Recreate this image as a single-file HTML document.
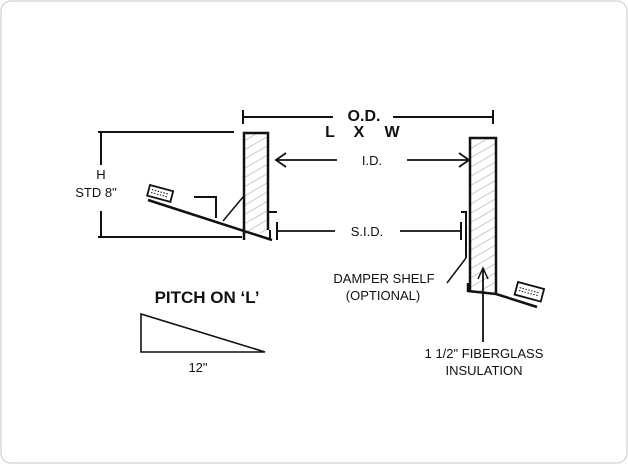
<!DOCTYPE html>
<html><head><style>
html,body{margin:0;padding:0;background:#fff;}
svg{display:block;font-family:"Liberation Sans",Arial,sans-serif;}
</style></head><body>
<svg width="628" height="464" viewBox="0 0 628 464" xmlns="http://www.w3.org/2000/svg">
<defs>
<pattern id="h" width="8" height="8" patternUnits="userSpaceOnUse" patternTransform="rotate(-30)">
<line x1="0" y1="4" x2="8" y2="4" stroke="#bbb" stroke-width="0.8"/>
</pattern>
</defs>
<rect x="1" y="1" width="626" height="462" rx="10" fill="#fff" stroke="#d0d0d0" stroke-width="1.2"/>
<g stroke="#111" fill="none" stroke-width="2">
<line x1="98" y1="132" x2="234" y2="132"/>
<line x1="98" y1="237" x2="242" y2="237"/>
<line x1="101" y1="132" x2="101" y2="165"/>
<line x1="101" y1="211" x2="101" y2="237"/>
<line x1="243" y1="110" x2="243" y2="124"/>
<line x1="243" y1="117" x2="333" y2="117"/>
<line x1="393" y1="117" x2="493" y2="117"/>
<line x1="493" y1="110" x2="493" y2="124"/>
<rect x="244" y="133" width="24" height="100" fill="url(#h)" stroke="none"/>
<polyline points="244,240 244,133 268,133 268,230" stroke-width="2.5"/>
<line x1="269" y1="212" x2="277" y2="212"/>
<line x1="270" y1="230" x2="270" y2="240"/>
<line x1="148" y1="200" x2="272" y2="240" stroke-width="2.5"/>
<polyline points="194,197 216,197 216,218"/>
<line x1="223" y1="221" x2="243" y2="197" stroke-width="1.5"/>
<g transform="translate(150,185) rotate(15)"><rect x="0" y="0" width="24" height="11" fill="#fff" stroke-width="1.8"/>
<line x1="3" y1="4" x2="21" y2="4" stroke-dasharray="1.5,1.5" stroke-width="1"/><line x1="3" y1="7" x2="21" y2="7" stroke-dasharray="1.5,1.5" stroke-width="1"/></g>
<line x1="276" y1="160" x2="337" y2="160" stroke-width="1.8"/>
<polyline points="286,153 276,160 286,167" stroke-width="1.8"/>
<line x1="407" y1="160" x2="468" y2="160" stroke-width="1.8"/>
<polyline points="459,153 469,160 459,167" stroke-width="1.8"/>
<line x1="277" y1="222" x2="277" y2="240"/>
<line x1="277" y1="231" x2="335" y2="231" stroke-width="1.8"/>
<line x1="400" y1="231" x2="461" y2="231" stroke-width="1.8"/>
<line x1="461" y1="222" x2="461" y2="240"/>
<rect x="470" y="138" width="26" height="154" fill="url(#h)" stroke="none"/>
<polyline points="470,292 470,138 496,138 496,293" stroke-width="2.5"/>
<polyline points="461,212 466,212 466,258" stroke-width="2"/>
<line x1="466" y1="258" x2="447" y2="283" stroke-width="1.5"/>
<polyline points="468,283 468,291 496,294 537,307" stroke-width="2.5"/>
<g transform="translate(518,282) rotate(15)"><rect x="0" y="0" width="27" height="13" fill="#fff" stroke-width="1.8"/>
<line x1="3" y1="5" x2="24" y2="5" stroke-dasharray="1.5,1.5" stroke-width="1"/><line x1="3" y1="8" x2="24" y2="8" stroke-dasharray="1.5,1.5" stroke-width="1"/></g>
<line x1="483" y1="268" x2="483" y2="342" stroke-width="1.8"/>
<polyline points="478,279 483,268 488,279" stroke-width="1.5"/>
<polygon points="141,314 141,352 265,352" stroke-width="1.6"/>
</g>
<g fill="#111" text-anchor="middle">
<text x="364" y="121" font-size="16" font-weight="bold">O.D.</text>
<text x="330" y="137" font-size="16" font-weight="bold">L</text>
<text x="359" y="137" font-size="16" font-weight="bold">X</text>
<text x="392" y="137" font-size="16" font-weight="bold">W</text>
<text x="101" y="179" font-size="13">H</text>
<text x="96" y="197" font-size="13">STD 8"</text>
<text x="372" y="165" font-size="13">I.D.</text>
<text x="367" y="236" font-size="13">S.I.D.</text>
<text x="384" y="283" font-size="13">DAMPER SHELF</text>
<text x="383" y="300" font-size="13">(OPTIONAL)</text>
<text x="484" y="358" font-size="13">1 1/2" FIBERGLASS</text>
<text x="484" y="375" font-size="13">INSULATION</text>
<text x="207" y="303" font-size="17" font-weight="bold">PITCH ON ‘L’</text>
<text x="198" y="372" font-size="13">12"</text>
</g>
</svg>
</body></html>
